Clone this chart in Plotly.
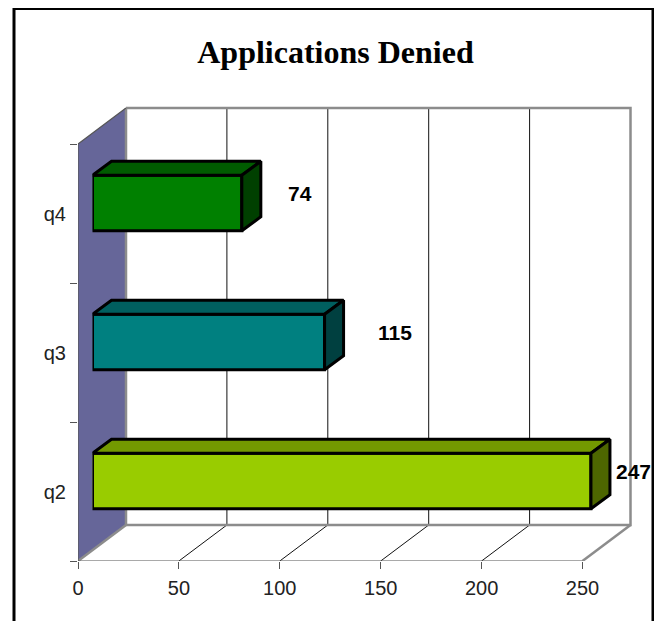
import plotly.graph_objects as go

categories = ["q2", "q3", "q4"]
values = [247, 115, 74]
value_ticks = [0, 50, 100, 150, 200, 250]

front_colors = ["#99CC00", "#008080", "#008000"]
top_colors = ["#739900", "#005F5F", "#005C00"]
side_colors = ["#4D6600", "#004040", "#004000"]

OFF = 8  # default page margin
W, H = 662 - OFF, 621 - OFF
X0, X250, Y0, Y3 = 78 - OFF, 582.5 - OFF, 561 - OFF, 144 - OFF
PX_X = (X250 - X0) / 250
PX_Y = (Y0 - Y3) / 3
WALL_DX, WALL_DY = 48 / PX_X, 36 / PX_Y
BAR_SHIFT_X, BAR_SHIFT_Y = 14.5, 10.5
BAR_DX, BAR_DY = 19 / PX_X, 14 / PX_Y
BAR_W = 55.5 / PX_Y
XMAX_VALUE = 250
# axes run past the last tick so that the 3-D walls are not clipped
RIGHT_PX, TOP_PX = 640 - OFF, 90 - OFF
XR = [0, (RIGHT_PX - X0) / PX_X]
YLO = -0.5
YR = [YLO, YLO + (Y0 - TOP_PX) / PX_Y]
GRAY = "#8C8C8C"
DARK = "#555555"
label_shift = [43, 70, 58]

fig = go.Figure()


def poly(xs, ys, fill=None, color="black", width=1, axes=("x", "y")):
    fig.add_trace(go.Scatter(
        x=xs, y=ys, mode="lines", xaxis=axes[0], yaxis=axes[1],
        fill="toself" if fill else "none", fillcolor=fill,
        line=dict(color=color, width=width),
        showlegend=False, hoverinfo="skip"))


lo, hi = YLO, YLO + 3
xmax = XMAX_VALUE
# left wall
poly([0, WALL_DX, WALL_DX, 0, 0], [lo, lo + WALL_DY, hi + WALL_DY, hi, lo],
     fill="#666699", color="rgba(0,0,0,0)")
# back wall grid and floor grid
for t in value_ticks[1:-1]:
    poly([t + WALL_DX, t + WALL_DX], [lo + WALL_DY, hi + WALL_DY], color="#111111", width=1)
    poly([t, t + WALL_DX], [lo, lo + WALL_DY], color="#111111", width=1)
# grey borders
poly([WALL_DX, xmax + WALL_DX, xmax + WALL_DX, WALL_DX, WALL_DX],
     [hi + WALL_DY, hi + WALL_DY, lo + WALL_DY, lo + WALL_DY, hi + WALL_DY], color=GRAY, width=2.5)
poly([0, WALL_DX], [lo, lo + WALL_DY], color=GRAY, width=2.5)
poly([xmax, xmax + WALL_DX], [lo, lo + WALL_DY], color=GRAY, width=2.5)
# dark wall edges and front floor edge
poly([0, 0, WALL_DX], [lo, hi, hi + WALL_DY], color=DARK, width=1.2)
poly([0, xmax], [lo, lo], color=DARK, width=1.2)

# bars
fig.add_trace(go.Bar(
    x=values, y=list(range(len(categories))), orientation="h", width=BAR_W,
    marker=dict(color=front_colors, line=dict(color="black", width=3)),
    xaxis="x2", yaxis="y2", showlegend=False,
    customdata=categories, hovertemplate="%{customdata}: %{x}<extra></extra>"))

for i, v in enumerate(values):
    b, t = i - BAR_W / 2, i + BAR_W / 2
    poly([0, BAR_DX, v + BAR_DX, v, 0], [t, t + BAR_DY, t + BAR_DY, t, t],
         fill=top_colors[i], color="black", width=3, axes=("x2", "y2"))
    poly([v, v + BAR_DX, v + BAR_DX, v, v], [t, t + BAR_DY, b + BAR_DY, b, t],
         fill=side_colors[i], color="black", width=3, axes=("x2", "y2"))
    fig.add_annotation(xref="x2", yref="y2", x=v, y=i, text=f"<b>{v}</b>", showarrow=False,
                       xanchor="center", yanchor="middle", xshift=label_shift[i], yshift=9.5,
                       font=dict(family="Liberation Sans", size=21, color="black"))

# outer frame
fx0, fx1, fy = (14 - OFF) / W, (653 - OFF) / W, 1 - (8.5 - OFF) / H
fig.add_shape(type="path", xref="paper", yref="paper", layer="above",
              path=f"M {fx0} -0.01 L {fx0} {fy} L {fx1} {fy} L {fx1} -0.01",
              line=dict(color="black", width=3))

tickfont = dict(family="Liberation Sans", size=20, color="#222222")
x_dom = [X0 / W, RIGHT_PX / W]
y_dom = [1 - Y0 / H, 1 - TOP_PX / H]
x2_dom = [(X0 + BAR_SHIFT_X) / W, min(1, (RIGHT_PX + BAR_SHIFT_X) / W)]
x2_range = [0, (x2_dom[1] * W - (X0 + BAR_SHIFT_X)) / PX_X]
y2_dom = [1 - (Y0 - BAR_SHIFT_Y) / H, 1 - (TOP_PX - BAR_SHIFT_Y) / H]

fig.update_layout(
    width=W, height=H, autosize=False,
    margin=dict(l=0, r=0, t=0, b=0, autoexpand=False),
    paper_bgcolor="white", plot_bgcolor="rgba(0,0,0,0)",
    showlegend=False,
    title=dict(text="<b>Applications Denied</b>", x=(335.5 - OFF) / W, y=1 - (52 - OFF) / H,
               xanchor="center", yanchor="middle", xref="paper", yref="paper",
               font=dict(family="Liberation Serif", size=32, color="black")),
    xaxis=dict(domain=x_dom, range=XR, tickvals=value_ticks, ticks="outside", ticklen=7,
               tickcolor=DARK, tickwidth=1.2, showline=False, automargin=False,
               ticklabelstandoff=2,
               showgrid=False, zeroline=False, tickfont=tickfont, anchor="y"),
    yaxis=dict(domain=y_dom, range=YR, tickvals=list(range(len(categories))), ticktext=categories,
               ticks="", showline=False, showgrid=False, zeroline=False, tickfont=tickfont,
               ticklabelstandoff=11, anchor="x", automargin=False,
               minor=dict(tickvals=[-0.5, 0.5, 1.5, 2.5], ticks="outside", ticklen=7,
                          tickcolor=DARK, tickwidth=1.2, showgrid=False)),
    xaxis2=dict(domain=x2_dom, range=x2_range, visible=False, anchor="y2", automargin=False),
    yaxis2=dict(domain=y2_dom, range=YR, visible=False, anchor="x2", automargin=False),
)

fig.write_html("out.html")
